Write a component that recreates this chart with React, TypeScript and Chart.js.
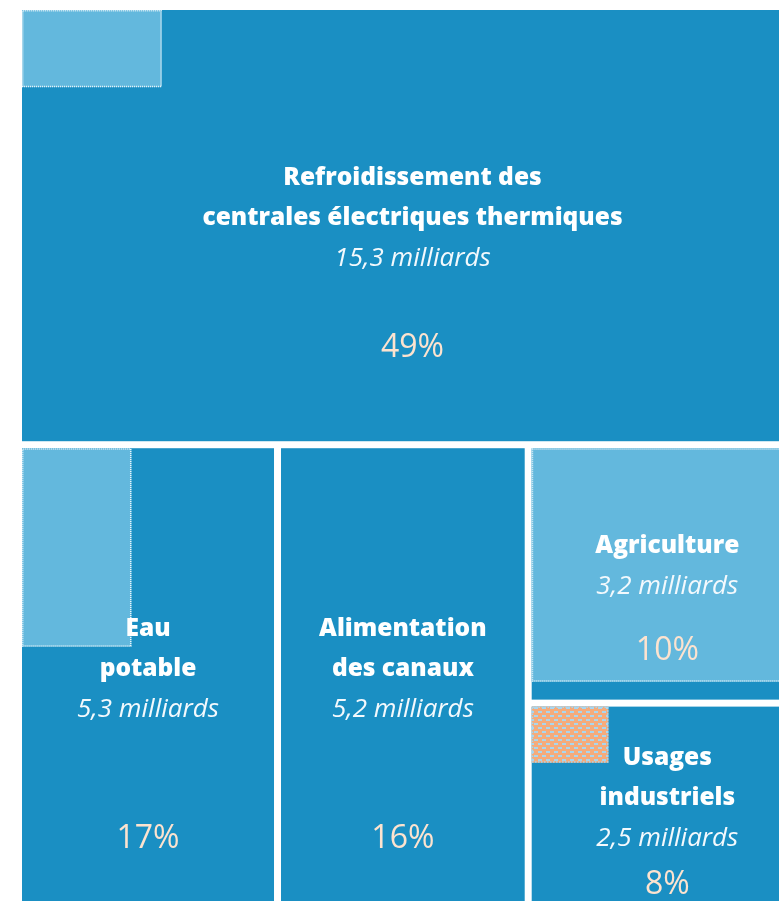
import React, { useEffect, useRef } from "react";
import { Chart, registerables } from "chart.js";

Chart.register(...registerables);

// ---- Data ----
const categories: string[][] = [
  ["Refroidissement des", "centrales électriques thermiques"],
  ["Eau", "potable"],
  ["Alimentation", "des canaux"],
  ["Agriculture"],
  ["Usages", "industriels"],
];
const volumes: number[] = [15.3, 5.3, 5.2, 3.2, 2.5]; // milliards de m³
const innerVolumes: number[] = [0.49, 1.0, 0, 2.76, 0.2];
const innerKinds: string[] = ["blue", "blue", "blue", "blue", "orange"];
const percentLabels: string[] = ["49%", "17%", "16%", "10%", "8%"];
const unitLabel = "milliards";

// ---- Style / layout constants ----
const DARK = "#1a8fc3";
const LIGHT = "#63b8dd";
const ORANGE = "#f5ab7b";
const DASH_BLUE = "#a9d6ef";
const PEACH = "#fde3cf";
const GAP = 3.5;
const LINE_H = 40.5;
const BLOCK_SHIFT = -7.5;
const PCT_SHIFT = 2;
const pctAnchor: number[] = [0.779, 0.851, 0.851, 0.797, 0.889];

type Cell = { x: number; y: number; w: number; h: number };

function squarify(vals: number[], W: number, H: number): Cell[] {
  const out: Cell[] = new Array(vals.length);
  let remaining = vals.map((_, i) => i);
  let r = { x: 0, y: 0, w: W, h: H };
  while (remaining.length) {
    const total = remaining.reduce((s, i) => s + vals[i], 0);
    const scale = (r.w * r.h) / total;
    const side = Math.min(r.w, r.h);
    const worst = (row: number[]) => {
      const areas = row.map((i) => vals[i] * scale);
      const s = areas.reduce((a, b) => a + b, 0);
      let m = 0;
      for (const a of areas) {
        m = Math.max(m, (side * side * a) / (s * s), (s * s) / (side * side * a));
      }
      return m;
    };
    let row = [remaining[0]];
    let k = 1;
    while (k < remaining.length) {
      const cand = row.concat(remaining[k]);
      if (worst(cand) <= worst(row)) {
        row = cand;
        k++;
      } else break;
    }
    const rowArea = row.reduce((s, i) => s + vals[i] * scale, 0);
    if (r.w >= r.h) {
      const cw = rowArea / r.h;
      let yy = r.y;
      for (const i of row) {
        const hh = (vals[i] * scale) / cw;
        out[i] = { x: r.x, y: yy, w: cw, h: hh };
        yy += hh;
      }
      r = { x: r.x + cw, y: r.y, w: r.w - cw, h: r.h };
    } else {
      const rh = rowArea / r.w;
      let xx = r.x;
      for (const i of row) {
        const ww = (vals[i] * scale) / rh;
        out[i] = { x: xx, y: r.y, w: ww, h: rh };
        xx += ww;
      }
      r = { x: r.x, y: r.y + rh, w: r.w, h: r.h - rh };
    }
    remaining = remaining.slice(row.length);
  }
  return out;
}

function makeOrangePattern(ctx: CanvasRenderingContext2D) {
  const c = document.createElement("canvas");
  c.width = 8;
  c.height = 8;
  const p = c.getContext("2d")!;
  p.fillStyle = ORANGE;
  p.fillRect(0, 0, 8, 8);
  p.fillStyle = DASH_BLUE;
  p.fillRect(0, 1, 4, 2);
  p.fillRect(4, 5, 4, 2);
  return ctx.createPattern(c, "repeat")!;
}

const fmt = (v: number) => v.toFixed(1).replace(".", ",") + " " + unitLabel;

const treemapPlugin = {
  id: "treemapCells",
  afterDatasetsDraw(chart: any) {
    const { ctx, chartArea, scales } = chart;
    const xs = scales.x;
    const ys = scales.y;
    const W = chartArea.right - chartArea.left;
    const H = chartArea.bottom - chartArea.top;
    const cells = squarify(volumes, W, H);
    const eps = 0.5;
    ctx.save();
    cells.forEach((c, i) => {
      let x0 = xs.getPixelForValue(c.x / W);
      let x1 = xs.getPixelForValue((c.x + c.w) / W);
      let y0 = ys.getPixelForValue(c.y / H);
      let y1 = ys.getPixelForValue((c.y + c.h) / H);
      if (c.x > eps) x0 += GAP;
      if (c.x + c.w < W - eps) x1 -= GAP;
      if (c.y > eps) y0 += GAP;
      if (c.y + c.h < H - eps) y1 -= GAP;
      const w = x1 - x0;
      const h = y1 - y0;
      ctx.fillStyle = DARK;
      ctx.fillRect(x0, y0, w, h);

      const inner = innerVolumes[i];
      if (inner > 0) {
        const s = Math.sqrt(inner / volumes[i]);
        const iw = w * s;
        const ih = h * s;
        if (innerKinds[i] === "orange") {
          ctx.fillStyle = makeOrangePattern(ctx);
          ctx.fillRect(x0, y0, iw, ih);
          ctx.setLineDash([1.5, 1.5]);
          ctx.strokeStyle = DASH_BLUE;
        } else {
          ctx.fillStyle = LIGHT;
          ctx.fillRect(x0, y0, iw, ih);
          ctx.setLineDash([1, 1]);
          ctx.strokeStyle = "rgba(255,255,255,0.85)";
        }
        ctx.lineWidth = 1.5;
        ctx.strokeRect(x0 + 0.75, y0 + 0.75, iw - 1.5, ih - 1.5);
        ctx.setLineDash([]);
      }

      // labels
      const cx = (x0 + x1) / 2;
      const lines = categories[i];
      const n = lines.length + 1;
      const mid = (y0 + y1) / 2 + BLOCK_SHIFT;
      let ly = mid - ((n - 1) / 2) * LINE_H;
      ctx.textAlign = "center";
      ctx.textBaseline = "middle";
      ctx.fillStyle = "#ffffff";
      ctx.font = "800 24.5px 'Open Sans'";
      for (const l of lines) {
        ctx.fillText(l, cx, ly);
        ly += LINE_H;
      }
      ctx.font = "italic 400 26px 'Open Sans'";
      ctx.fillStyle = "#f3f9fd";
      ctx.fillText(fmt(volumes[i]), cx, ly);
      ctx.font = "400 32px 'Open Sans'";
      ctx.fillStyle = PEACH;
      ctx.fillText(percentLabels[i], cx, y0 + pctAnchor[i] * h + PCT_SHIFT);
    });
    ctx.restore();
  },
};

export default function App() {
  const ref = useRef<HTMLCanvasElement | null>(null);
  useEffect(() => {
    if (!ref.current) return;
    const chart = new Chart(ref.current, {
      type: "scatter",
      data: { datasets: [{ data: [] as any[] }] },
      options: {
        responsive: false,
        animation: false,
        layout: { padding: 0 },
        scales: {
          x: { type: "linear", min: 0, max: 1, display: false },
          y: { type: "linear", min: 0, max: 1, reverse: true, display: false },
        },
        plugins: { legend: { display: false }, tooltip: { enabled: false } },
      },
      plugins: [treemapPlugin],
    });
    return () => chart.destroy();
  }, []);
  return (
    <div
      style={{
        position: "fixed",
        left: 0,
        top: 0,
        width: 779,
        height: 901,
        overflow: "hidden",
        background: "#fff",
      }}
    >
      <canvas
        ref={ref}
        width={781}
        height={895}
        style={{ position: "absolute", left: 22, top: 10, width: 781, height: 895 }}
      />
    </div>
  );
}
